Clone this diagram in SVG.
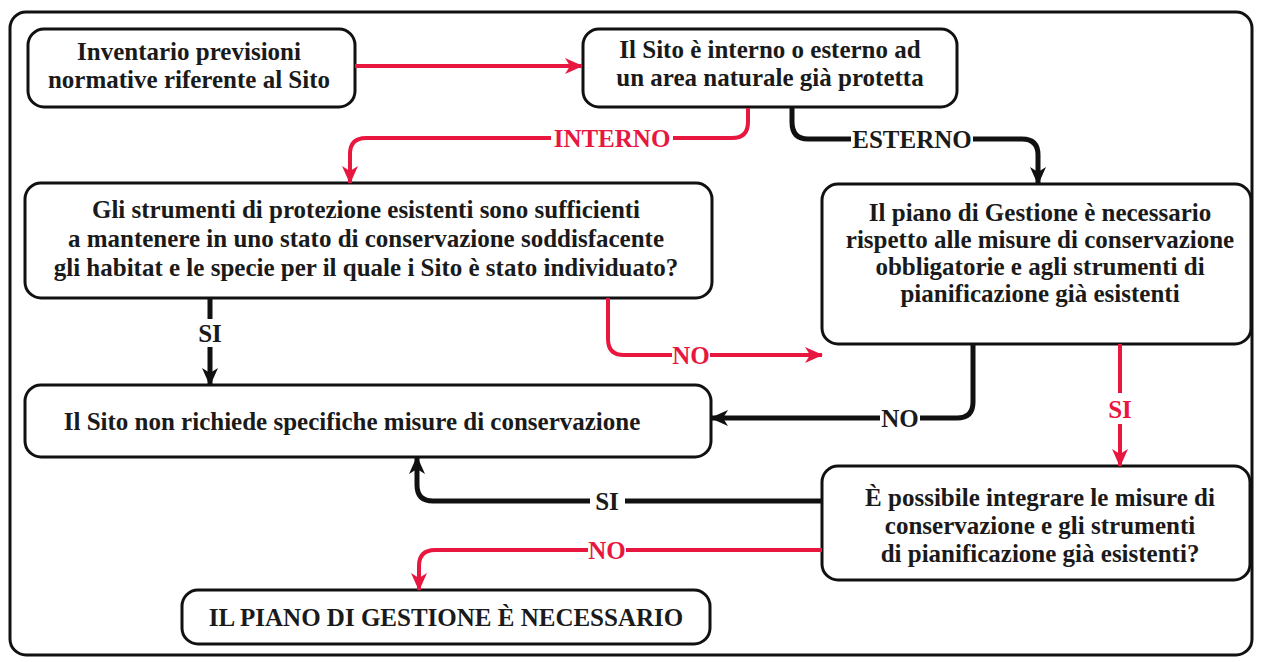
<svg xmlns="http://www.w3.org/2000/svg" width="1263" height="662" viewBox="0 0 1263 662">
<style>
.box{fill:#fff;stroke:#111;stroke-width:3}
.t{font-family:"Liberation Serif","Times New Roman",serif;font-weight:bold;font-size:25px;fill:#1a1a1a;text-anchor:middle}
.lr{font-family:"Liberation Serif","Times New Roman",serif;font-weight:bold;font-size:25px;fill:#e8173f;text-anchor:middle}
.lb{font-family:"Liberation Serif","Times New Roman",serif;font-weight:bold;font-size:25px;fill:#1a1a1a;text-anchor:middle}
.cr{fill:none;stroke:#e8173f;stroke-width:4}
.cb{fill:none;stroke:#111;stroke-width:5}
</style>
<defs>
<marker id="ar" markerUnits="userSpaceOnUse" markerWidth="18" markerHeight="18" viewBox="0 0 18 18" refX="17" refY="9" orient="auto">
<path d="M0,1 L18,9 L0,17 L5,9 Z" fill="#e8173f"/>
</marker>
<marker id="ab" markerUnits="userSpaceOnUse" markerWidth="18" markerHeight="18" viewBox="0 0 18 18" refX="17" refY="9" orient="auto">
<path d="M0,1 L18,9 L0,17 L5,9 Z" fill="#111"/>
</marker>
</defs>
<rect x="0" y="0" width="1263" height="662" fill="#fff"/>
<rect x="10" y="12" width="1242" height="643" rx="16" fill="none" stroke="#111" stroke-width="3"/>

<g id="n1"><rect class="box" x="28" y="29" width="327" height="78" rx="16"/>
<text class="t" x="189" y="60">Inventario previsioni</text>
<text class="t" x="189" y="88">normative riferente al Sito</text></g>

<g id="n2"><rect class="box" x="583" y="29" width="374" height="78" rx="16"/>
<text class="t" x="770" y="58">Il Sito è interno o esterno ad</text>
<text class="t" x="770" y="86">un area naturale già protetta</text></g>

<g id="n3"><rect class="box" x="25" y="183" width="687" height="115" rx="16"/>
<text class="t" x="366" y="218">Gli strumenti di protezione esistenti sono sufficienti</text>
<text class="t" x="366" y="247">a mantenere in uno stato di conservazione soddisfacente</text>
<text class="t" x="366" y="276">gli habitat e le specie per il quale i Sito è stato individuato?</text></g>

<g id="n4"><rect class="box" x="822" y="184" width="429" height="160" rx="16"/>
<text class="t" x="1040" y="221">Il piano di Gestione è necessario</text>
<text class="t" x="1040" y="248">rispetto alle misure di conservazione</text>
<text class="t" x="1040" y="275">obbligatorie e agli strumenti di</text>
<text class="t" x="1040" y="302">pianificazione già esistenti</text></g>

<g id="n5"><rect class="box" x="25" y="385" width="686" height="72" rx="16"/>
<text class="t" x="352" y="430">Il Sito non richiede specifiche misure di conservazione</text></g>

<g id="n6"><rect class="box" x="822" y="466" width="428" height="114" rx="16"/>
<text class="t" x="1040" y="506">È possibile integrare le misure di</text>
<text class="t" x="1040" y="534">conservazione e gli strumenti</text>
<text class="t" x="1040" y="562">di pianificazione già esistenti?</text></g>

<g id="n7"><rect class="box" x="182" y="590" width="528" height="54" rx="16"/>
<text class="t" x="446" y="626">IL PIANO DI GESTIONE È NECESSARIO</text></g>

<g id="connectors">
<path class="cr" d="M355,66 H582" marker-end="url(#ar)"/>
<path class="cr" d="M748,108 V122 Q748,138 732,138 H673"/>
<path class="cr" d="M551,138 H366 Q350,138 350,154 V183" marker-end="url(#ar)"/>
<text class="lr" x="612" y="147">INTERNO</text>

<path class="cb" d="M792,108 V122 Q792,139 808,139 H851"/>
<path class="cb" d="M973,139 H1022 Q1038,139 1038,155 V184" marker-end="url(#ab)"/>
<text class="lb" x="912" y="148">ESTERNO</text>

<path class="cb" d="M210,298 V319"/>
<path class="cb" d="M210,347 V385" marker-end="url(#ab)"/>
<text class="lb" x="210" y="342">SI</text>

<path class="cr" d="M608,298 V339 Q608,355 624,355 H672"/>
<path class="cr" d="M710,355 H822" marker-end="url(#ar)"/>
<text class="lr" x="691" y="364">NO</text>

<path class="cb" d="M973,344 V402 Q973,418 957,418 H920"/>
<path class="cb" d="M880,418 H711" marker-end="url(#ab)"/>
<text class="lb" x="900" y="427">NO</text>

<path class="cr" d="M1120,344 V393"/>
<path class="cr" d="M1120,424 V466" marker-end="url(#ar)"/>
<text class="lr" x="1120" y="418">SI</text>

<path class="cb" d="M822,501 H625"/>
<path class="cb" d="M590,501 H433 Q417,501 417,485 V457" marker-end="url(#ab)"/>
<text class="lb" x="607" y="510">SI</text>

<path class="cr" d="M822,550 H626"/>
<path class="cr" d="M588,550 H435 Q419,550 419,566 V590" marker-end="url(#ar)"/>
<text class="lr" x="607" y="559">NO</text>
</g>
</svg>
